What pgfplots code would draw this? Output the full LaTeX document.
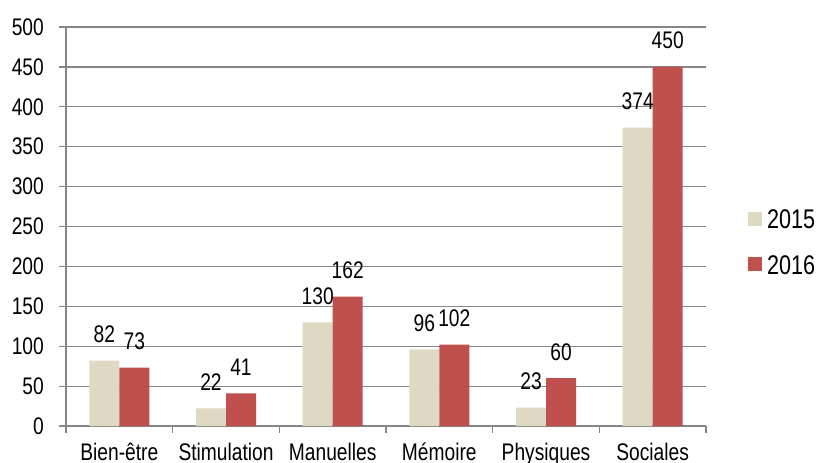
\documentclass[border=0pt]{standalone}
\usepackage{fontspec}
\setmainfont{Liberation Sans}[FakeStretch=0.8]
\usepackage{pgfplots}
\pgfplotsset{compat=1.18}
\definecolor{c2015}{RGB}{221,217,195}
\definecolor{c2016}{RGB}{192,80,77}
\definecolor{gridgray}{RGB}{134,134,134}
\begin{document}
\begin{tikzpicture}[font=\fontsize{24bp}{27bp}\selectfont]
\useasboundingbox (-66bp,-37bp) rectangle (752bp,426bp);
\begin{axis}[
  at={(0,0)}, anchor=south west,
  scale only axis,
  width=640bp, height=399bp,
  ymin=0, ymax=500,
  xmin=-0.5, xmax=5.5,
  ytick={0,50,...,500},
  xtick={-0.5,0.5,...,5.5},
  xticklabels={},
  extra x ticks={0,1,2,3,4,5},
  extra x tick labels={Bien-être,Stimulation,Manuelles,Mémoire,Physiques,Sociales},
  extra x tick style={tick style={draw=none}},
  axis x line*=bottom,
  axis y line*=left,
  axis line style={gridgray, line width=1.3bp, -},
  ymajorgrids,
  grid style={gridgray, line width=1.2bp},
  tick align=outside,
  major tick length=7bp,
  tick style={gridgray, line width=1.2bp},
  /pgf/number format/assume math mode=true,
  yticklabel style={anchor=east, inner sep=0pt, xshift=-15bp},
  xticklabel style={anchor=north, inner sep=0pt, text height=17bp, yshift=-10bp},
  ybar=0pt, bar width=30bp,
  nodes near coords,
  nodes near coords style={anchor=south, inner sep=0pt, yshift=17.5bp, black},
  clip=false,
  legend style={at={(1.0656,0.4624)}, anchor=west, draw=none, fill=none,
    inner sep=0pt, row sep=26bp, column sep=5bp,
    font=\fontsize{27bp}{30bp}\selectfont,
    nodes={inner sep=0pt, text height=19.5bp, text depth=0bp, anchor=west}},
  legend cell align=left,
  legend image code/.code={\fill[#1,draw=none] (0bp,-7bp) rectangle (14bp,7bp);},
]
\addplot[fill=c2015, draw=none] coordinates {(0,82) (1,22) (2,130) (3,96) (4,23) (5,374)};
\addplot[fill=c2016, draw=none] coordinates {(0,73) (1,41) (2,162) (3,102) (4,60) (5,450)};
\legend{2015,2016}
\end{axis}
\end{tikzpicture}
\end{document}
